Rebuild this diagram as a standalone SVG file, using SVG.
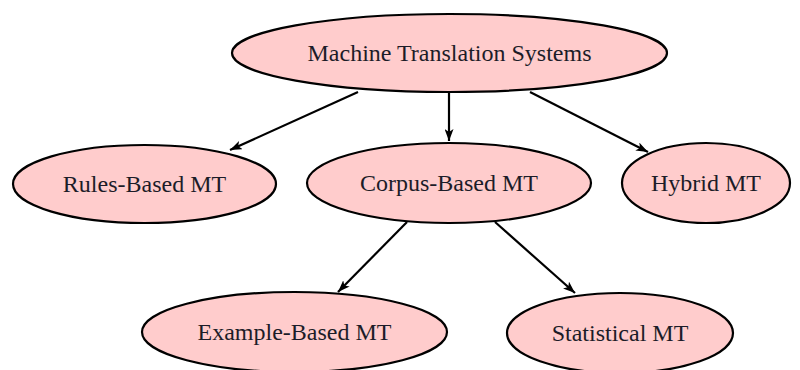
<svg xmlns="http://www.w3.org/2000/svg" width="800" height="370" viewBox="0 0 800 370">
  <style>
    .node ellipse { fill: #ffcccc; stroke: #000; stroke-width: 2.2; }
    .node text { font-family: "Liberation Serif", "Times New Roman", serif; font-size: 24px; fill: #1c1c28; text-anchor: middle; }
    .edge { stroke: #000; stroke-width: 2.2; fill: none; marker-end: url(#arrow); }
  </style>
  <defs>
    <marker id="arrow" viewBox="0 0 12 9" refX="12" refY="4.5" markerWidth="12" markerHeight="9" markerUnits="userSpaceOnUse" orient="auto">
      <path d="M0,0 L12,4.5 L0,9 L3,4.5 Z" fill="#000"/>
    </marker>
  </defs>

  <g id="connectors">
    <line class="edge" x1="358" y1="92" x2="230" y2="150"/>
    <line class="edge" x1="449" y1="92" x2="449" y2="141"/>
    <line class="edge" x1="530" y1="92" x2="648" y2="152"/>
    <line class="edge" x1="407" y1="222" x2="338" y2="292"/>
    <line class="edge" x1="495" y1="222" x2="575" y2="293"/>
  </g>

  <g id="mt-systems" class="node">
    <ellipse cx="449.5" cy="53" rx="217.5" ry="39"/>
    <text x="449.5" y="61">Machine Translation Systems</text>
  </g>
  <g id="rules-based" class="node">
    <ellipse cx="144.5" cy="184" rx="131.5" ry="39"/>
    <text x="144.5" y="192">Rules-Based MT</text>
  </g>
  <g id="corpus-based" class="node">
    <ellipse cx="449" cy="183" rx="142" ry="40"/>
    <text x="449" y="191">Corpus-Based MT</text>
  </g>
  <g id="hybrid" class="node">
    <ellipse cx="706" cy="183" rx="84" ry="40"/>
    <text x="706" y="191">Hybrid MT</text>
  </g>
  <g id="example-based" class="node">
    <ellipse cx="294.5" cy="332" rx="152.5" ry="40"/>
    <text x="294.5" y="340">Example-Based MT</text>
  </g>
  <g id="statistical" class="node">
    <ellipse cx="620" cy="333" rx="113" ry="40"/>
    <text x="620" y="341">Statistical MT</text>
  </g>
</svg>
